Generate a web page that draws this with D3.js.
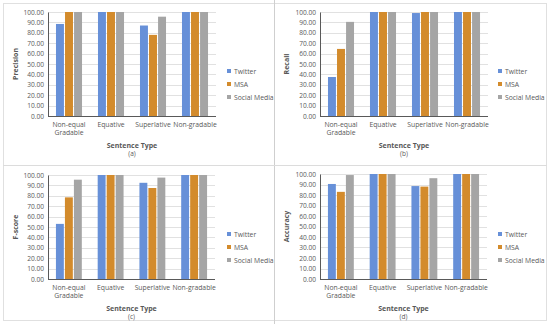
<!DOCTYPE html>
<html>
<head>
<meta charset="utf-8">
<script src="https://cdn.jsdelivr.net/npm/d3@7"></script>
<style>
  body { margin: 0; background: #fff; }
  svg text { font-family: "Open Sans", "Liberation Sans", sans-serif; fill: #595959; }
</style>
</head>
<body>
<svg id="chart" width="550" height="324"></svg>
<script>
// chart data
var categories = ["Non-equal Gradable", "Equative", "Superlative", "Non-gradable"];
var series = ["Twitter", "MSA", "Social Media"];
var colors = ["#6790d8", "#d38b2c", "#a5a5a5"];
var yTicks = [0, 10, 20, 30, 40, 50, 60, 70, 80, 90, 100];

// values per category: [Twitter, MSA, Social Media]
var precision = [[88.5, 100, 100], [100, 100, 100], [87, 78, 95.5], [100, 100, 100]];
var recall    = [[37.5, 64.5, 90.5], [100, 100, 100], [99, 100, 100], [100, 100, 100]];
var fscore    = [[53, 78.5, 95.5], [100, 100, 100], [92.5, 87.5, 97.5], [100, 100, 100]];
var accuracy  = [[90.5, 83, 99], [100, 100, 100], [88.5, 88, 96], [100, 100, 100]];

var svg = d3.select("#chart");

// panel frames + dividers
svg.append("rect").attr("x", 3.5).attr("y", 3.5).attr("width", 543).attr("height", 317)
   .attr("fill", "none").attr("stroke", "#e0e0e0");
svg.append("line").attr("x1", 274.5).attr("x2", 274.5).attr("y1", 0).attr("y2", 324)
   .attr("stroke", "#cfcfcf");
svg.append("line").attr("x1", 3).attr("x2", 547).attr("y1", 165.5).attr("y2", 165.5)
   .attr("stroke", "#dcdcdc");

function drawPanel(o) {
  var g = svg.append("g").attr("transform", "translate(" + o.dx + "," + o.dy + ")");

  var x0 = d3.scaleBand().domain(categories).range([o.left, o.right]);
  var bw = x0.bandwidth();
  var x1 = d3.scaleBand().domain(series).range([bw * 0.19, bw * 0.81]).paddingInner(0.12);
  var y = d3.scaleLinear().domain([0, 100]).range([o.bottom, o.top]);

  // gridlines
  g.append("g").selectAll("line").data(yTicks).join("line")
    .attr("x1", o.left).attr("x2", o.right)
    .attr("y1", function(d) { return Math.round(y(d)) + 0.5; })
    .attr("y2", function(d) { return Math.round(y(d)) + 0.5; })
    .attr("stroke", "#d9d9d9").attr("stroke-width", 0.8);

  // y axis
  var yAxis = g.append("g").attr("transform", "translate(" + o.left + ",0)")
    .call(d3.axisLeft(y).tickValues(yTicks).tickFormat(d3.format(".2f")).tickSize(0).tickPadding(4));
  yAxis.select(".domain").attr("stroke", "#595959");
  yAxis.selectAll("text").style("font-size", "6.6px").attr("fill", "#595959");

  // bars
  g.append("g").selectAll("g").data(o.values).join("g")
    .attr("transform", function(d, i) { return "translate(" + x0(categories[i]) + ",0)"; })
    .selectAll("rect").data(function(d) { return d; }).join("rect")
      .attr("x", function(d, j) { return x1(series[j]); })
      .attr("y", function(d) { return y(d); })
      .attr("width", x1.bandwidth())
      .attr("height", function(d) { return y(0) - y(d); })
      .attr("fill", function(d, j) { return colors[j]; });

  // x axis
  g.append("line").attr("x1", o.left).attr("x2", o.right)
    .attr("y1", o.bottom + 0.5).attr("y2", o.bottom + 0.5).attr("stroke", "#595959");
  var cats = g.append("g").selectAll("text").data(categories).join("text")
    .attr("x", function(d) { return x0(d) + bw / 2; })
    .attr("y", o.bottom + 11)
    .attr("text-anchor", "middle")
    .style("font-size", "6.8px");
  cats.each(function(d) {
    var words = d === "Non-equal Gradable" ? ["Non-equal", "Gradable"] : [d];
    var t = d3.select(this);
    words.forEach(function(w, k) {
      t.append("tspan").attr("x", t.attr("x")).attr("dy", k === 0 ? 0 : 8).text(w);
    });
  });

  var cx = (o.left + o.right) / 2;
  g.append("text").attr("x", cx).attr("y", o.bottom + 32).attr("text-anchor", "middle")
    .style("font-size", "7px").style("font-weight", "bold").text("Sentence Type");
  g.append("text").attr("x", cx).attr("y", o.bottom + 40).attr("text-anchor", "middle")
    .style("font-size", "6.5px").text(o.tag);

  // y title
  g.append("text")
    .attr("transform", "translate(" + o.ytx + "," + (o.top + o.bottom) / 2 + ") rotate(-90)")
    .attr("text-anchor", "middle")
    .style("font-size", "7px").style("font-weight", "bold").text(o.ylabel);

  // legend
  var lg = g.append("g").attr("transform", "translate(" + o.legX + "," + o.legY + ")");
  series.forEach(function(s, j) {
    lg.append("rect").attr("x", 0).attr("y", j * 13 - 3).attr("width", 4).attr("height", 4)
      .attr("fill", colors[j]);
    lg.append("text").attr("x", 7).attr("y", j * 13 + 1.5).style("font-size", "6.8px").text(s);
  });
}

drawPanel({ dx: 0,   dy: 0,   left: 48, right: 216, top: 12, bottom: 116, ytx: 18, legX: 227, legY: 72, tag: "(a)", ylabel: "Precision", values: precision });
drawPanel({ dx: 275, dy: 0,   left: 45, right: 213, top: 12, bottom: 116, ytx: 14, legX: 223, legY: 72, tag: "(b)", ylabel: "Recall",    values: recall });
drawPanel({ dx: 0,   dy: 162, left: 48, right: 215, top: 13, bottom: 117, ytx: 18, legX: 227, legY: 73, tag: "(c)", ylabel: "F-score",   values: fscore });
drawPanel({ dx: 275, dy: 162, left: 45, right: 212, top: 12, bottom: 117, ytx: 14, legX: 223, legY: 73, tag: "(d)", ylabel: "Accuracy",  values: accuracy });
</script>
</body>
</html>
